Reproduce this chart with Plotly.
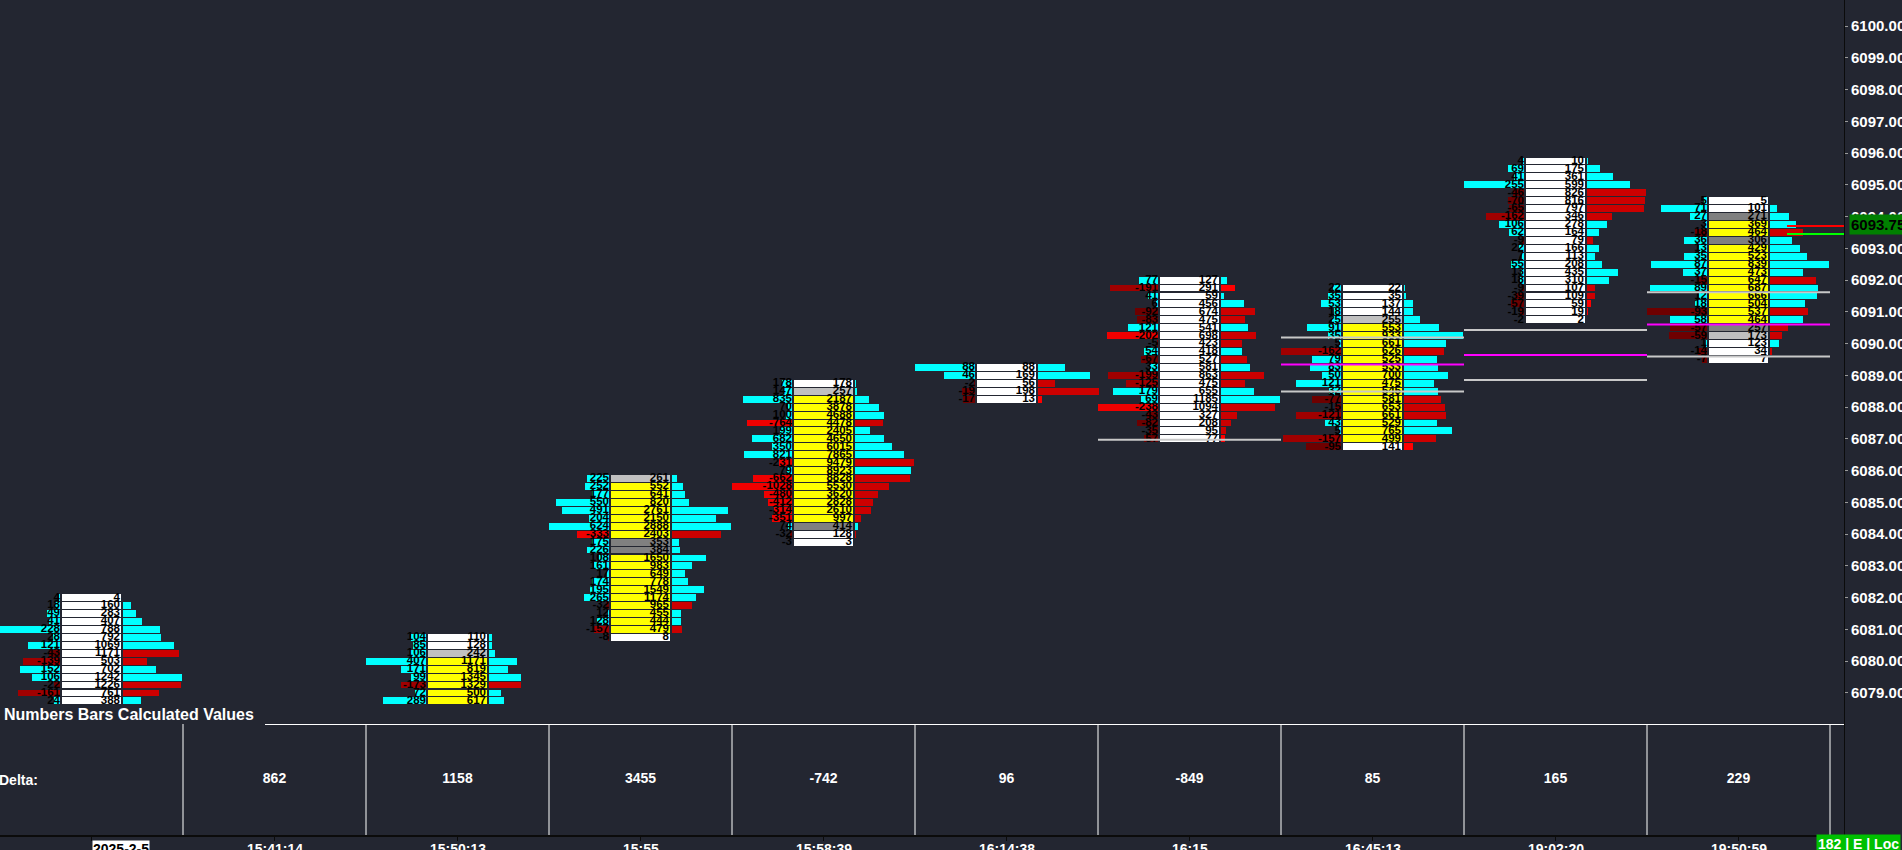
import plotly.graph_objects as go

# ---------------- data ----------------
slot_times = ["2025-2-5", "15:41:14", "15:50:13", "15:55", "15:58:39",
              "16:14:38", "16:15", "16:45:13", "19:02:20", "19:50:59"]
slot_delta_totals = [None, 862, 1158, 3455, -742, 96, -849, 85, 165, 229]

bar_slots = [0, 2, 3, 4, 5, 6, 7, 8, 9]
bar_top_prices = [6082.00, 6080.75, 6085.75, 6088.75, 6089.25,
                  6092.00, 6091.75, 6095.75, 6094.50]
tick_size = 0.25

a_delta = [4, 18, 49, 41, 228, 28, 121, -43, -139, 152, 106, -22, -161, 24]
a_volume = [4, 160, 283, 407, 788, 792, 1069, 1171, 503, 702, 1242, 1226, 761, 388]
a_state = "nnnnnnnnnnnnnn"

b_delta = [104, 85, 106, 407, 171, 99, -173, 72, 289]
b_volume = [110, 128, 242, 1171, 819, 1345, 1329, 500, 617]
b_state = "nnevvvvvv"

c_delta = [225, 252, 177, 550, 491, 204, 624, -333, 175, 226, 108,
           161, 17, 174, 195, 265, -32, 12, 128, -157, -8]
c_volume = [261, 552, 641, 820, 2761, 2150, 2888, 2403, 353, 384, 1650,
            983, 649, 778, 1549, 1174, 965, 455, 444, 479, 8]
c_state = "evvvvvvvppvvvvvvvvvvn"

d_delta = [178, 147, 835, 70, 100, -764, 199, 682, 350, 821, -231,
           79, -662, -1028, -480, -412, -314, -351, 74, -32, -3]
d_volume = [178, 257, 2187, 3878, 4688, 4478, 2405, 4650, 6015, 7865, 9479,
            8923, 8828, 5530, 3620, 2828, 2610, 997, 414, 128, 3]
d_state = "nevvvvvvvvvvvvvvvvpnn"

e_delta = [88, 46, -2, -19, -17]
e_volume = [88, 169, 56, 198, 13]
e_state = "nnnnn"

f_delta = [77, -191, 41, 6, -92, -83, 121, -202, -5, 54, -67,
           33, -199, -125, 179, 69, -238, -43, -82, -35, -57]
f_volume = [127, 291, 59, 456, 674, 475, 541, 698, 423, 418, 527,
            581, 863, 475, 655, 1185, 1094, 327, 208, 95, 77]
f_state = "nnnnnnnnnnnnnnnnnnnnn"

g_delta = [22, 35, 53, 18, 25, 91, 35, 5, -162, 79, 83,
           50, 121, 32, -77, -15, -121, 43, 5, -157, -95]
g_volume = [22, 35, 137, 144, 255, 553, 933, 661, 626, 525, 533,
            700, 475, 545, 581, 653, 661, 529, 765, 499, 141]
g_state = "nnnnevvvvvvvvvvvvvvvn"

h_delta = [4, 69, 41, 255, -46, -70, -65, -162, 106, 62, -9,
           22, 7, 55, 13, 18, -9, -39, -57, -19, -2]
h_volume = [10, 175, 361, 599, 826, 816, 797, 346, 278, 164, 79,
            166, 113, 208, 435, 310, 107, 109, 59, 19, 2]
h_state = "nnnnnnnnnnnnnnnnnnnnn"

i_delta = [5, 71, 27, 3, -18, 36, 13, 35, 87, 37, -15,
           89, 12, 18, -93, 58, -57, -59, 1, -14, -7]
i_volume = [5, 101, 271, 369, 464, 306, 429, 523, 839, 473, 647,
            687, 666, 504, 537, 464, 257, 173, 123, 34, 7]
i_state = "nnpvvpvvvvvvvvvvpennn"

bars_delta = [a_delta, b_delta, c_delta, d_delta, e_delta, f_delta, g_delta, h_delta, i_delta]
bars_volume = [a_volume, b_volume, c_volume, d_volume, e_volume, f_volume, g_volume, h_volume, i_volume]
bars_state = [a_state, b_state, c_state, d_state, e_state, f_state, g_state, h_state, i_state]

# level lines drawn across one slot
level_slots = [6, 7, 7, 7, 8, 8, 8, 9, 9, 9]
level_prices = [6086.97, 6090.19, 6089.34, 6088.49, 6090.43, 6089.64,
                6088.85, 6091.62, 6090.60, 6089.59]
level_kinds = ["g", "g", "m", "g", "g", "m", "g", "g", "m", "g"]

last_price = 6093.75
ask_line = 6093.70
bid_line = 6093.45

price_ticks = list(range(6079, 6101))

# ---------------- styling / geometry ----------------
W, H = 1902, 850
BG = "#232631"
SLOT_PX = 183.0
PX = 1.0 / SLOT_PX
PLOT_RIGHT = 1844
X_MIN = -0.5
X_MAX = X_MIN + PLOT_RIGHT / SLOT_PX
PRICE_PX = 31.76
Y_TOP = 6100 + 26 / PRICE_PX
Y_BOT = 6100 - (724 - 26) / PRICE_PX
CELL_HALF = 29.5
BAR_GAP = 31.5
LEFT_MAX = 60
RIGHT_MAX = [59, 32, 59, 59, 61, 59, 59, 59, 59]
CELL_H = 0.217
STATE_COL = {"n": "#FFFFFF", "v": "#FFFF00", "e": "#C0C0C0", "p": "#808080"}
CYAN = "#00FFFF"
TXT_FONT = dict(family="Liberation Sans, Arial", size=11.5, color="#000000", weight="bold")


def left_color(d):
    if d >= 0:
        return CYAN
    a = -d
    if a >= 200:
        return "#F00000"
    if a >= 100:
        return "#A00000"
    return "#6E0000"


def right_color(d, v):
    if d >= 0:
        return CYAN
    return "#FF0000" if (-d / max(v, 1)) >= 0.5 else "#CC0000"


cell_x, cell_y, cell_b, cell_c = [], [], [], []
lb_x, lb_y, lb_b, lb_c = [], [], [], []
rb_x, rb_y, rb_b, rb_c = [], [], [], []
dt_x, dt_y, dt_t = [], [], []
vt_x, vt_y, vt_t = [], [], []

for k, slot in enumerate(bar_slots):
    deltas, vols, states = bars_delta[k], bars_volume[k], bars_state[k]
    dmax = max(abs(d) for d in deltas)
    vmax = max(vols)
    for r, (d, v, s) in enumerate(zip(deltas, vols, states)):
        p = bar_top_prices[k] - r * tick_size
        cell_y.append(p)
        cell_b.append(slot - CELL_HALF * PX)
        cell_x.append(2 * CELL_HALF * PX)
        cell_c.append(STATE_COL[s])
        lb_y.append(p)
        lb_b.append(slot - BAR_GAP * PX)
        lb_x.append(-LEFT_MAX * abs(d) / dmax * PX)
        lb_c.append(left_color(d))
        rb_y.append(p)
        rb_b.append(slot + BAR_GAP * PX)
        rb_x.append(RIGHT_MAX[k] * v / vmax * PX)
        rb_c.append(right_color(d, v))
        dt_x.append(slot - 31.5 * PX)
        dt_y.append(p)
        dt_t.append(str(d))
        vt_x.append(slot + 28.5 * PX)
        vt_y.append(p)
        vt_t.append(str(v))

fig = go.Figure()
for xs, ys, bs, cs in [(cell_x, cell_y, cell_b, cell_c),
                       (lb_x, lb_y, lb_b, lb_c),
                       (rb_x, rb_y, rb_b, rb_c)]:
    fig.add_trace(go.Bar(orientation="h", x=xs, y=ys, base=bs, width=CELL_H,
                         marker=dict(color=cs, line=dict(width=0)),
                         hoverinfo="skip", xaxis="x", yaxis="y"))

fig.add_trace(go.Scatter(x=dt_x, y=dt_y, text=dt_t, mode="text",
                         textposition="middle left", textfont=TXT_FONT,
                         hoverinfo="skip", xaxis="x", yaxis="y"))
fig.add_trace(go.Scatter(x=vt_x, y=vt_y, text=vt_t, mode="text",
                         textposition="middle left", textfont=TXT_FONT,
                         hoverinfo="skip", xaxis="x", yaxis="y"))

# level lines
for kind, color in [("g", "#C8C8C8"), ("m", "#FF00FF")]:
    xs, ys = [], []
    for s, p, kk in zip(level_slots, level_prices, level_kinds):
        if kk == kind:
            xs += [s - 0.5, s + 0.5, None]
            ys += [p, p, None]
    fig.add_trace(go.Scatter(x=xs, y=ys, mode="lines",
                             line=dict(color=color, width=2),
                             hoverinfo="skip", xaxis="x", yaxis="y"))

line_start = bar_slots[-1] + 48.5 * PX
for p, color in [(ask_line, "#FF0000"), (bid_line, "#00FF00")]:
    fig.add_trace(go.Scatter(x=[line_start, X_MAX], y=[p, p], mode="lines",
                             line=dict(color=color, width=2),
                             hoverinfo="skip", xaxis="x", yaxis="y"))

# lower panel: separators and top line
sx, sy = [], []
for k in range(len(slot_times)):
    sx += [k + 0.5, k + 0.5, None]
    sy += [0, 1, None]
fig.add_trace(go.Scatter(x=sx, y=sy, mode="lines", line=dict(color="#FFFFFF", width=1),
                         hoverinfo="skip", xaxis="x", yaxis="y2"))
title_end = X_MIN + 265 * PX
fig.add_trace(go.Scatter(x=[title_end, X_MAX], y=[1, 1], mode="lines",
                         line=dict(color="#FFFFFF", width=2),
                         hoverinfo="skip", xaxis="x", yaxis="y2"))

dx = [k for k, v in enumerate(slot_delta_totals) if v is not None]
dtxt = [str(v) for v in slot_delta_totals if v is not None]
fig.add_trace(go.Scatter(x=dx, y=[0.5] * len(dx), text=dtxt, mode="text",
                         textposition="middle center",
                         textfont=dict(family="Liberation Sans, Arial", size=14,
                                       color="#FFFFFF", weight="bold"),
                         hoverinfo="skip", xaxis="x", yaxis="y2"))

annotations = [
    dict(text="Delta:", xref="paper", yref="y2", x=0, y=0.5, xanchor="left",
         yanchor="middle", xshift=-3, showarrow=False,
         font=dict(family="Liberation Sans, Arial", size=14, color="#FFFFFF", weight="bold")),
    dict(text="Numbers Bars Calculated Values", xref="paper", yref="paper",
         x=2 / W, y=1 - 714 / H, xanchor="left", yanchor="middle", showarrow=False,
         font=dict(family="Liberation Sans, Arial", size=16, color="#FFFFFF", weight="bold")),
    dict(text=f"{last_price:.2f}", xref="paper", yref="y", x=1849 / W, y=last_price,
         xanchor="left", yanchor="middle", showarrow=False, bgcolor="#008000",
         borderpad=1, font=dict(family="Liberation Sans, Arial", size=15,
                                color="#000000", weight="bold")),
    dict(text="182 | E | Loc", xref="paper", yref="paper", x=1816 / W, y=0,
         xanchor="left", yanchor="bottom", showarrow=False, bgcolor="#00C000",
         borderpad=1, yshift=-4, font=dict(family="Liberation Sans, Arial", size=14,
                                           color="#FFFFFF", weight="bold")),
]
for k, t in enumerate(slot_times):
    if k == 0:
        annotations.append(dict(text=t, xref="x", yref="paper", x=k, y=1 - 849 / H,
                                xanchor="left", yanchor="middle", showarrow=False,
                                bgcolor="#FFFFFF", borderpad=0,
                                font=dict(family="Liberation Sans, Arial", size=14,
                                          color="#000000", weight="bold")))
    else:
        annotations.append(dict(text=t, xref="x", yref="paper", x=k, y=1 - 849 / H,
                                xanchor="center", yanchor="middle", showarrow=False,
                                font=dict(family="Liberation Sans, Arial", size=14,
                                          color="#FFFFFF", weight="bold")))

fig.update_layout(
    template="none",
    width=W, height=H,
    margin=dict(l=0, r=0, t=0, b=0, autoexpand=False),
    paper_bgcolor=BG, plot_bgcolor=BG,
    showlegend=False, barmode="overlay", bargap=0,
    xaxis=dict(domain=[0, PLOT_RIGHT / W], range=[X_MIN, X_MAX], anchor="y2",
               showgrid=False, zeroline=False, showticklabels=False,
               showline=True, linecolor="#0b0b0b", linewidth=2,
               ticks="outside", tickvals=list(range(len(slot_times))), ticklen=4,
               tickcolor="#0b0b0b", automargin=False, fixedrange=True),
    yaxis=dict(domain=[1 - 724 / H, 1], range=[Y_BOT, Y_TOP], anchor="x", side="right",
               showgrid=False, zeroline=False, showline=True, linecolor="#0b0b0b",
               linewidth=1, ticks="outside", ticklen=3, tickcolor="#9a9a9a",
               tickvals=price_ticks, tickformat=".2f",
               tickfont=dict(family="Liberation Sans, Arial", size=15, color="#FFFFFF",
                             weight="bold"),
               automargin=False, fixedrange=True),
    yaxis2=dict(domain=[15 / H, 1 - 724 / H], range=[0, 1], anchor="x", side="right",
                showgrid=False, zeroline=False, showline=True, linecolor="#0b0b0b",
                linewidth=1, showticklabels=False, ticks="", automargin=False,
                fixedrange=True),
    annotations=annotations,
)

fig.write_html(
    "out.html",
    config={"displayModeBar": False, "staticPlot": True},
    post_script=("document.body.style.margin='0';"
                 "document.body.style.padding='0';"
                 "document.body.style.overflow='hidden';"
                 "document.body.style.background='" + BG + "';"),
)
